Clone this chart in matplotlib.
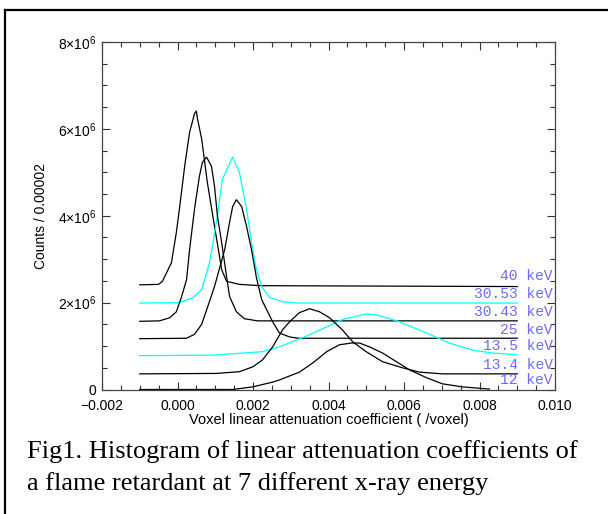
import matplotlib
matplotlib.use("Agg")
import matplotlib.pyplot as plt
from matplotlib.ticker import MultipleLocator, FixedLocator, FixedFormatter
from matplotlib.lines import Line2D

plt.rcParams['font.family'] = ['Liberation Sans', 'DejaVu Sans']
plt.rcParams['mathtext.fontset'] = 'custom'
plt.rcParams['mathtext.rm'] = 'Liberation Sans'
plt.rcParams['mathtext.it'] = 'Liberation Sans'

# ---------------- data (x: /voxel, y: counts in millions) ----------------
energies = ["40 keV", "30.53 keV", "30.43 keV", "25 keV", "13.5 keV", "13.4 keV", "12 keV"]
offsets = [2.40, 1.99, 1.57, 1.17, 0.78, 0.36, 0.0]
colors = ["black", "cyan", "black", "black", "cyan", "black", "black"]

x40 = [-0.001, -0.0005, -0.0004, -0.00016, -0.00003, 0.00005, 0.00019, 0.00032, 0.00045, 0.0005,
       0.00053, 0.00064, 0.00079, 0.00098, 0.00117, 0.0013, 0.00164, 0.0022, 0.009]
y40 = [2.41, 2.42, 2.49, 2.92, 3.62, 4.15, 5.14, 5.92, 6.35, 6.41,
       6.23, 5.77, 4.77, 3.76, 2.76, 2.49, 2.42, 2.39, 2.37]

x3053 = [-0.001, 0.00005, 0.0004, 0.00064, 0.00085, 0.00103, 0.00119, 0.00146, 0.00164, 0.00183,
         0.00196, 0.00209, 0.00223, 0.00244, 0.00278, 0.0032, 0.009]
y3053 = [1.99, 2.0, 2.11, 2.3, 2.92, 3.85, 4.84, 5.35, 5.0, 4.15,
         3.39, 2.76, 2.37, 2.12, 2.02, 1.99, 1.99]

x3043 = [-0.001, -0.00048, -0.00021, -0.00003, 0.00011, 0.00024, 0.00032, 0.00045, 0.00058, 0.00066,
         0.00077, 0.0009, 0.00098, 0.00106, 0.00117, 0.0013, 0.00138, 0.00156, 0.00177, 0.00212, 0.009]
y3043 = [1.57, 1.58, 1.65, 1.79, 2.14, 2.53, 3.22, 4.15, 4.91, 5.23,
         5.35, 5.14, 4.68, 3.98, 3.38, 2.6, 2.14, 1.79, 1.63, 1.58, 1.58]

x25 = [-0.001, 0.00024, 0.00045, 0.00064, 0.00079, 0.00098, 0.00125, 0.00138, 0.00146, 0.00156,
       0.0017, 0.00183, 0.00196, 0.00209, 0.00223, 0.00236, 0.00252, 0.0027, 0.00297, 0.0032, 0.009]
y25 = [1.17, 1.18, 1.27, 1.5, 1.88, 2.37, 3.22, 3.85, 4.21, 4.37,
       4.21, 3.75, 3.22, 2.58, 2.07, 1.84, 1.56, 1.3, 1.21, 1.18, 1.18]

x135 = [-0.001, 0.00093, 0.00225, 0.0027, 0.0035, 0.00437, 0.005, 0.00527, 0.00588, 0.0066,
        0.0072, 0.00781, 0.00834, 0.009]
y135 = [0.78, 0.79, 0.87, 0.98, 1.26, 1.61, 1.74, 1.72, 1.56, 1.3,
        1.07, 0.91, 0.84, 0.8]

x134 = [-0.001, 0.00103, 0.00164, 0.00199, 0.00225, 0.00252, 0.00278, 0.00297, 0.00323, 0.0035,
        0.00376, 0.00403, 0.00437, 0.00464, 0.005, 0.00543, 0.00596, 0.00641, 0.00702, 0.009]
y134 = [0.36, 0.37, 0.41, 0.52, 0.68, 0.98, 1.37, 1.56, 1.77, 1.86,
        1.79, 1.65, 1.37, 1.1, 0.87, 0.64, 0.5, 0.4, 0.36, 0.36]

x12 = [-0.001, 0.00146, 0.00199, 0.00252, 0.0027, 0.00323, 0.00358, 0.00395, 0.00429, 0.00461,
       0.00482, 0.00509, 0.00543, 0.0058, 0.00615, 0.0066, 0.00702, 0.00755, 0.00826]
y12 = [0.0, 0.0, 0.06, 0.17, 0.22, 0.4, 0.61, 0.87, 1.03, 1.07,
       1.07, 0.98, 0.84, 0.64, 0.45, 0.27, 0.13, 0.06, 0.01]

xs = [x40, x3053, x3043, x25, x135, x134, x12]
ys = [y40, y3053, y3043, y25, y135, y134, y12]

xticks = [-0.002, 0.000, 0.002, 0.004, 0.006, 0.008, 0.010]
xticklabels = ["\u22120.002", "0.000", "0.002", "0.004", "0.006", "0.008", "0.010"]
yticks = [0, 2e6, 4e6, 6e6, 8e6]
yticklabels = ["0", r"$2{\times}10^{6}$", r"$4{\times}10^{6}$", r"$6{\times}10^{6}$", r"$8{\times}10^{6}$"]

caption = ["Fig1. Histogram of linear attenuation coefficients of",
           "a flame retardant at 7 different x-ray energy"]

# ---------------- figure ----------------
fig = plt.figure(figsize=(6.08, 5.14), dpi=100)
W, H = 608, 514
ax = fig.add_axes([102 / W, 1 - 389.5 / H, 453 / W, 347.5 / H])

for x, y, c in zip(xs, ys, colors):
    ax.plot(x, [v * 1e6 for v in y], color=c, lw=0.9)

for lab, off in zip(energies, offsets):
    ax.text(0.9955, off * 1e6 + 0.05e6, lab, transform=ax.get_yaxis_transform(),
            ha='right', va='bottom', color='#6a6aff', family='Liberation Mono', fontsize=10.5)

ax.set_xlim(-0.002, 0.010)
ax.set_ylim(0, 8e6)
ax.xaxis.set_major_locator(FixedLocator(xticks))
ax.xaxis.set_major_formatter(FixedFormatter(xticklabels))
ax.xaxis.set_minor_locator(MultipleLocator(0.0005))
ax.yaxis.set_major_locator(FixedLocator(yticks))
ax.yaxis.set_major_formatter(FixedFormatter(yticklabels))
ax.yaxis.set_minor_locator(MultipleLocator(0.5e6))
ax.tick_params(which='both', direction='in', top=True, right=True, color='#333333', width=0.8)
ax.tick_params(which='major', length=6)
ax.tick_params(which='minor', length=3.5)
ax.tick_params(axis='x', which='major', pad=7, labelsize=10)
ax.tick_params(axis='y', which='major', pad=4, labelsize=10)
for s in ax.spines.values():
    s.set_color('#444444')
    s.set_linewidth(0.9)

ax.set_xlabel("Voxel linear attenuation coefficient ( /voxel)", fontsize=10.5, labelpad=0)
ax.set_ylabel("Counts / 0.00002", fontsize=10, labelpad=7)

# frame lines
fig.add_artist(Line2D([5 / W, 5 / W], [0, 1 - 10 / H], color='black', lw=1.6, transform=fig.transFigure))
fig.add_artist(Line2D([5 / W, 1], [1 - 10 / H, 1 - 10 / H], color='black', lw=1.6, transform=fig.transFigure))

fig.text(27 / W, 1 - 452 / H, caption[0], family='Liberation Serif', fontsize=19, va='center', ha='left')
fig.text(27 / W, 1 - 484 / H, caption[1], family='Liberation Serif', fontsize=19, va='center', ha='left')

fig.savefig("out.png", dpi=100)
